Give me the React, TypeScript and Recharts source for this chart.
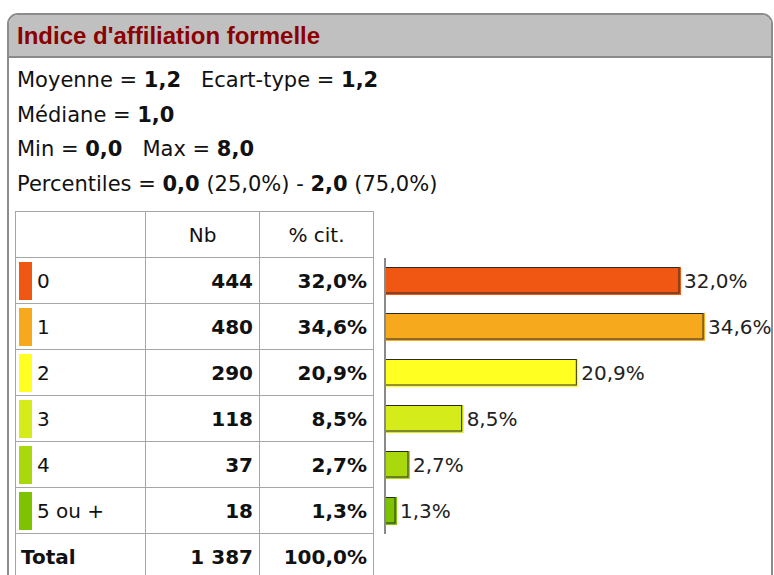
import React from "react";
import { BarChart, Bar, XAxis, YAxis, Cell, LabelList, ReferenceLine } from "recharts";

const title = "Indice d'affiliation formelle";
const categories = ["0", "1", "2", "3", "4", "5 ou +"];
const counts = ["444", "480", "290", "118", "37", "18"];
const percents = [32.0, 34.6, 20.9, 8.5, 2.7, 1.3];
const colors = ["#F05713", "#F6A91D", "#FFFF22", "#D6EC1A", "#A9D80C", "#7DC300"];
const headers = ["", "Nb", "% cit."];
const totalRow = ["Total", "1 387", "100,0%"];
const statLines: [string, string][][] = [
  [["Moyenne = ", "1,2"], ["Ecart-type = ", "1,2"]],
  [["Médiane = ", "1,0"]],
  [["Min = ", "0,0"], ["Max = ", "8,0"]],
  [["Percentiles = ", "0,0"], ["\u00a0(25,0%) - ", "2,0"], ["\u00a0(75,0%)", ""]],
];

const fmt = (v: number) => v.toFixed(1).replace(".", ",") + "%";

const data = categories.map((c, i) => ({ name: c, pct: percents[i], color: colors[i] }));

const FONT = "'DejaVu Sans', sans-serif";

const BarShape = (props: any) => {
  const { x, y, width, height, fill } = props;
  if (width <= 0) return null;
  return (
    <g>
      <rect x={x} y={y} width={width} height={height} fill={fill} />
      <rect x={x + 0.5} y={y + 0.5} width={Math.max(0, width - 2.5)} height={height - 2.5} fill="none" stroke="#2a2a2a" strokeWidth={1} />
    </g>
  );
};

const cellBorder = "1px solid #a6a6a6";

export default function App() {
  return (
    <div style={{ position: "absolute", left: 0, top: 0, width: 774, height: 575, overflow: "hidden", background: "#fff", fontFamily: FONT }}>
      {/* panel */}
      <div
        style={{
          position: "absolute",
          left: 7,
          top: 13,
          width: 766,
          height: 575,
          border: "2px solid #8c8c8c",
          borderRadius: 11,
          background: "#fff",
          boxSizing: "border-box",
          overflow: "hidden",
        }}
      >
        <div
          style={{
            height: 43,
            background: "#c0c0c0",
            borderBottom: "2px solid #8a8a8a",
            boxSizing: "border-box",
            display: "flex",
            alignItems: "center",
            paddingLeft: 8,
            color: "#8B0000",
            fontFamily: "'Liberation Sans', Arial, sans-serif",
            fontWeight: "bold",
            fontSize: 24,
          }}
        >
          {title}
        </div>
      </div>
      {/* stats */}
      <div style={{ position: "absolute", left: 17, top: 63, fontSize: 21, lineHeight: "34.5px", color: "#111", whiteSpace: "pre" }}>
        {statLines.map((line, i) => (
          <div key={i}>
            {line.map(([t, b], j) => (
              <span key={j} style={{ marginLeft: j > 0 && i !== 3 ? 20 : 0 }}>
                {t}
                <b>{b}</b>
              </span>
            ))}
          </div>
        ))}
      </div>
      {/* table */}
      <table
        style={{
          position: "absolute",
          left: 15,
          top: 211,
          borderCollapse: "collapse",
          tableLayout: "fixed",
          width: 359,
          fontSize: 20,
          color: "#111",
        }}
      >
        <colgroup>
          <col style={{ width: 130 }} />
          <col style={{ width: 114 }} />
          <col style={{ width: 114 }} />
        </colgroup>
        <tbody>
          <tr style={{ height: 46 }}>
            {headers.map((h, i) => (
              <td key={i} style={{ border: cellBorder, textAlign: "center", padding: 0 }}>
                {h}
              </td>
            ))}
          </tr>
          {categories.map((c, i) => (
            <tr key={c} style={{ height: 46 }}>
              <td style={{ border: cellBorder, padding: 0, position: "relative" }}>
                <div style={{ position: "absolute", left: 3, top: 4, width: 13, height: 38, background: colors[i] }} />
                <span style={{ position: "absolute", left: 21, top: 11 }}>{c}</span>
              </td>
              <td style={{ border: cellBorder, textAlign: "right", paddingRight: 6, fontWeight: "bold" }}>{counts[i]}</td>
              <td style={{ border: cellBorder, textAlign: "right", paddingRight: 6, fontWeight: "bold" }}>{fmt(percents[i])}</td>
            </tr>
          ))}
          <tr style={{ height: 46 }}>
            <td style={{ border: cellBorder, paddingLeft: 5, fontWeight: "bold" }}>{totalRow[0]}</td>
            <td style={{ border: cellBorder, textAlign: "right", paddingRight: 6, fontWeight: "bold" }}>{totalRow[1]}</td>
            <td style={{ border: cellBorder, textAlign: "right", paddingRight: 6, fontWeight: "bold" }}>{totalRow[2]}</td>
          </tr>
        </tbody>
      </table>
      {/* chart */}
      <div style={{ position: "absolute", left: 375, top: 258 }}>
        <BarChart width={399} height={276} data={data} layout="vertical" margin={{ top: 0, right: 19, left: 10, bottom: 0 }}>
          <XAxis type="number" domain={[0, 40]} hide />
          <YAxis type="category" dataKey="name" hide />
          <Bar dataKey="pct" barSize={28} isAnimationActive={false} shape={<BarShape />}>
            {data.map((d, i) => (
              <Cell key={i} fill={d.color} />
            ))}
            <LabelList dataKey="pct" position="right" offset={3} formatter={(v: any) => fmt(Number(v))} style={{ fontSize: 20, fill: "#222", fontFamily: FONT }} />
          </Bar>
          <ReferenceLine x={0} stroke="#8a8a8a" strokeWidth={2} />
        </BarChart>
      </div>
    </div>
  );
}
